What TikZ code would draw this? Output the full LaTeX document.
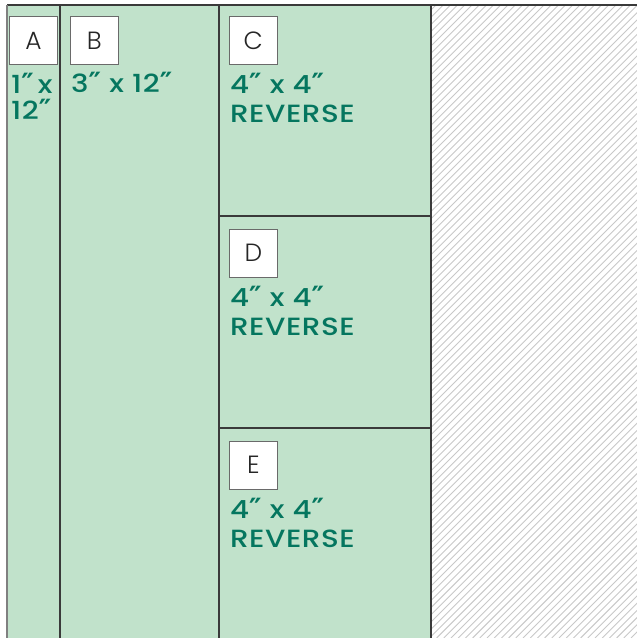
\documentclass[tikz,border=0pt]{standalone}
\usepackage{fontspec}
\setmainfont{Poppins}
\newfontfamily\labfont{Poppins Medium}[FakeStretch=1.18, LetterSpace=2]
\newfontfamily\boxfont{Poppins Light}
\newfontfamily\primefont{DejaVu Sans}
\newcommand{\dprm}{\smash{\primefont\bfseries\fontsize{28}{28}\selectfont ″}}
\definecolor{fillgreen}{HTML}{C1E2CB}
\definecolor{textgreen}{HTML}{05765F}
\definecolor{edge}{HTML}{3A3A3A}
\definecolor{hatch}{HTML}{C8C8C8}
\definecolor{boxedge}{HTML}{6A6A6A}
\tikzset{
  letterbox/.style={draw=boxedge, fill=white, line width=1bp, minimum width=48bp, minimum height=48bp, inner sep=0pt, font=\boxfont\fontsize{25}{27}\selectfont, text=black!85},
  sizetext/.style={anchor=base west, inner sep=0pt, font=\labfont\fontsize{25}{28}\selectfont, text=textgreen},
  divider/.style={draw=edge, line width=1.2bp}
}
\begin{document}
\begin{tikzpicture}[x=1bp,y=-1bp]
\useasboundingbox (0,0) rectangle (637,638);
% hatch area
\begin{scope}
  \clip (431,5) rectangle (637,638);
  \foreach \i in {0,...,135} {
    \draw[hatch, line width=0.9bp] (431+\i*7.2-700,638) -- (431+\i*7.2,-62);
  }
\end{scope}
% green fill
\fill[fillgreen] (7,5) rectangle (431,638);
% lines
\draw[divider] (7,5) -- (637,5);
\draw[draw=black!50, line width=1.2bp] (7,5) -- (7,638);
\draw[divider] (60,5) -- (60,638);
\draw[divider] (219,5) -- (219,638);
\draw[divider] (431,5) -- (431,638);
\draw[divider] (219,216) -- (431,216);
\draw[divider] (219,428) -- (431,428);
% letter boxes
\node[letterbox] (A) at (33.5,41) {A};
\node[letterbox] (B) at (94.3,41) {B};
\node[letterbox] (C) at (253.3,41) {C};
\node[letterbox] (D) at (253.3,253) {D};
\node[letterbox] (E) at (253.3,465) {E};
% size texts
\node[sizetext, align=left, font=\labfont\fontsize{25}{27}\selectfont] (a1) at (11,120) {1\dprm\kern4bp x\\12\dprm};
\node[sizetext] (b1) at (71,93) {3\dprm{} x 12\dprm};
\node[sizetext] (c1) at (230,94) {4\dprm{} x 4\dprm};
\node[sizetext] (c2) at (230,123) {REVERSE};
\node[sizetext] (d1) at (230,306) {4\dprm{} x 4\dprm};
\node[sizetext] (d2) at (230,335) {REVERSE};
\node[sizetext] (e1) at (230,518) {4\dprm{} x 4\dprm};
\node[sizetext] (e2) at (230,547) {REVERSE};
\end{tikzpicture}
\end{document}
